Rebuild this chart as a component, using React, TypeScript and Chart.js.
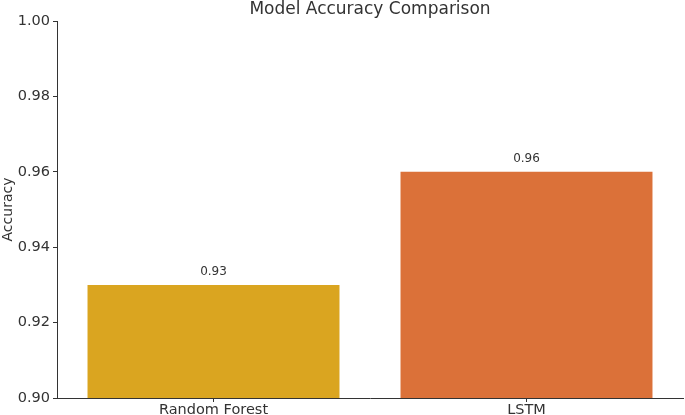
import React, { useEffect, useRef } from "react";
import { Chart, registerables } from "chart.js";

Chart.register(...registerables);

const categories = ["Random Forest", "LSTM"];
const accuracy = [0.93, 0.96];
const barColors = ["#DAA520", "#DB7139"];
const valueLabels = ["0.93", "0.96"];
const chartTitle = "Model Accuracy Comparison";
const yTitle = "Accuracy";

const FONT = "'DejaVu Sans', sans-serif";
const TEXT = "#333333";

export default function App() {
  const ref = useRef<HTMLCanvasElement | null>(null);
  useEffect(() => {
    if (!ref.current) return;
    const labelPlugin = {
      id: "valueLabels",
      afterDatasetsDraw(chart: any) {
        const ctx = chart.ctx;
        const meta = chart.getDatasetMeta(0);
        ctx.save();
        ctx.font = `12px ${FONT}`;
        ctx.fillStyle = TEXT;
        ctx.textAlign = "center";
        ctx.textBaseline = "alphabetic";
        meta.data.forEach((bar: any, i: number) => {
          ctx.fillText(valueLabels[i], bar.x, bar.y - 10);
        });
        // title
        const ca = chart.chartArea;
        ctx.font = `17px ${FONT}`;
        ctx.fillText(chartTitle, (ca.left + ca.right) / 2, 13.5);
        ctx.restore();
      },
    };
    const chart = new Chart(ref.current, {
      type: "bar",
      data: {
        labels: categories,
        datasets: [
          {
            data: accuracy,
            backgroundColor: barColors,
            borderWidth: 0,
            barPercentage: 0.805,
            categoryPercentage: 1.0,
          },
        ],
      },
      options: {
        responsive: false,
        animation: false,
        devicePixelRatio: 1,
        layout: { padding: { top: 21, right: 2, left: 0, bottom: 0 } },
        plugins: {
          legend: { display: false },
          title: { display: false },
          tooltip: { enabled: false },
        },
        scales: {
          x: {
            grid: {
              display: true,
              offset: false,
              drawOnChartArea: false,
              drawTicks: true,
              tickLength: 4,
              color: TEXT,
            },
            border: { display: true, color: TEXT, width: 1 },
            ticks: {
              color: TEXT,
              font: { family: FONT, size: 14.5 },
              padding: 0,
              maxRotation: 0,
            },
            afterFit(scale: any) {
              scale.height = 17;
            },
          },
          y: {
            min: 0.9,
            max: 1.0,
            grid: {
              display: true,
              drawOnChartArea: false,
              drawTicks: true,
              tickLength: 4,
              color: TEXT,
            },
            border: { display: true, color: TEXT, width: 1 },
            ticks: {
              stepSize: 0.02,
              color: TEXT,
              font: { family: FONT, size: 14.5 },
              padding: 3,
              callback: (v: any) => Number(v).toFixed(2),
            },
            title: {
              display: true,
              text: yTitle,
              color: TEXT,
              font: { family: FONT, size: 14 },
              padding: 0,
            },
            afterFit(scale: any) {
              scale.width = 57;
            },
          },
        },
      },
      plugins: [labelPlugin],
    });
    return () => chart.destroy();
  }, []);
  return (
    <div style={{ position: "fixed", left: 0, top: 0, width: 685, height: 415, background: "#fff" }}>
      <canvas ref={ref} width={685} height={415} style={{ width: 685, height: 415, display: "block" }} />
    </div>
  );
}
